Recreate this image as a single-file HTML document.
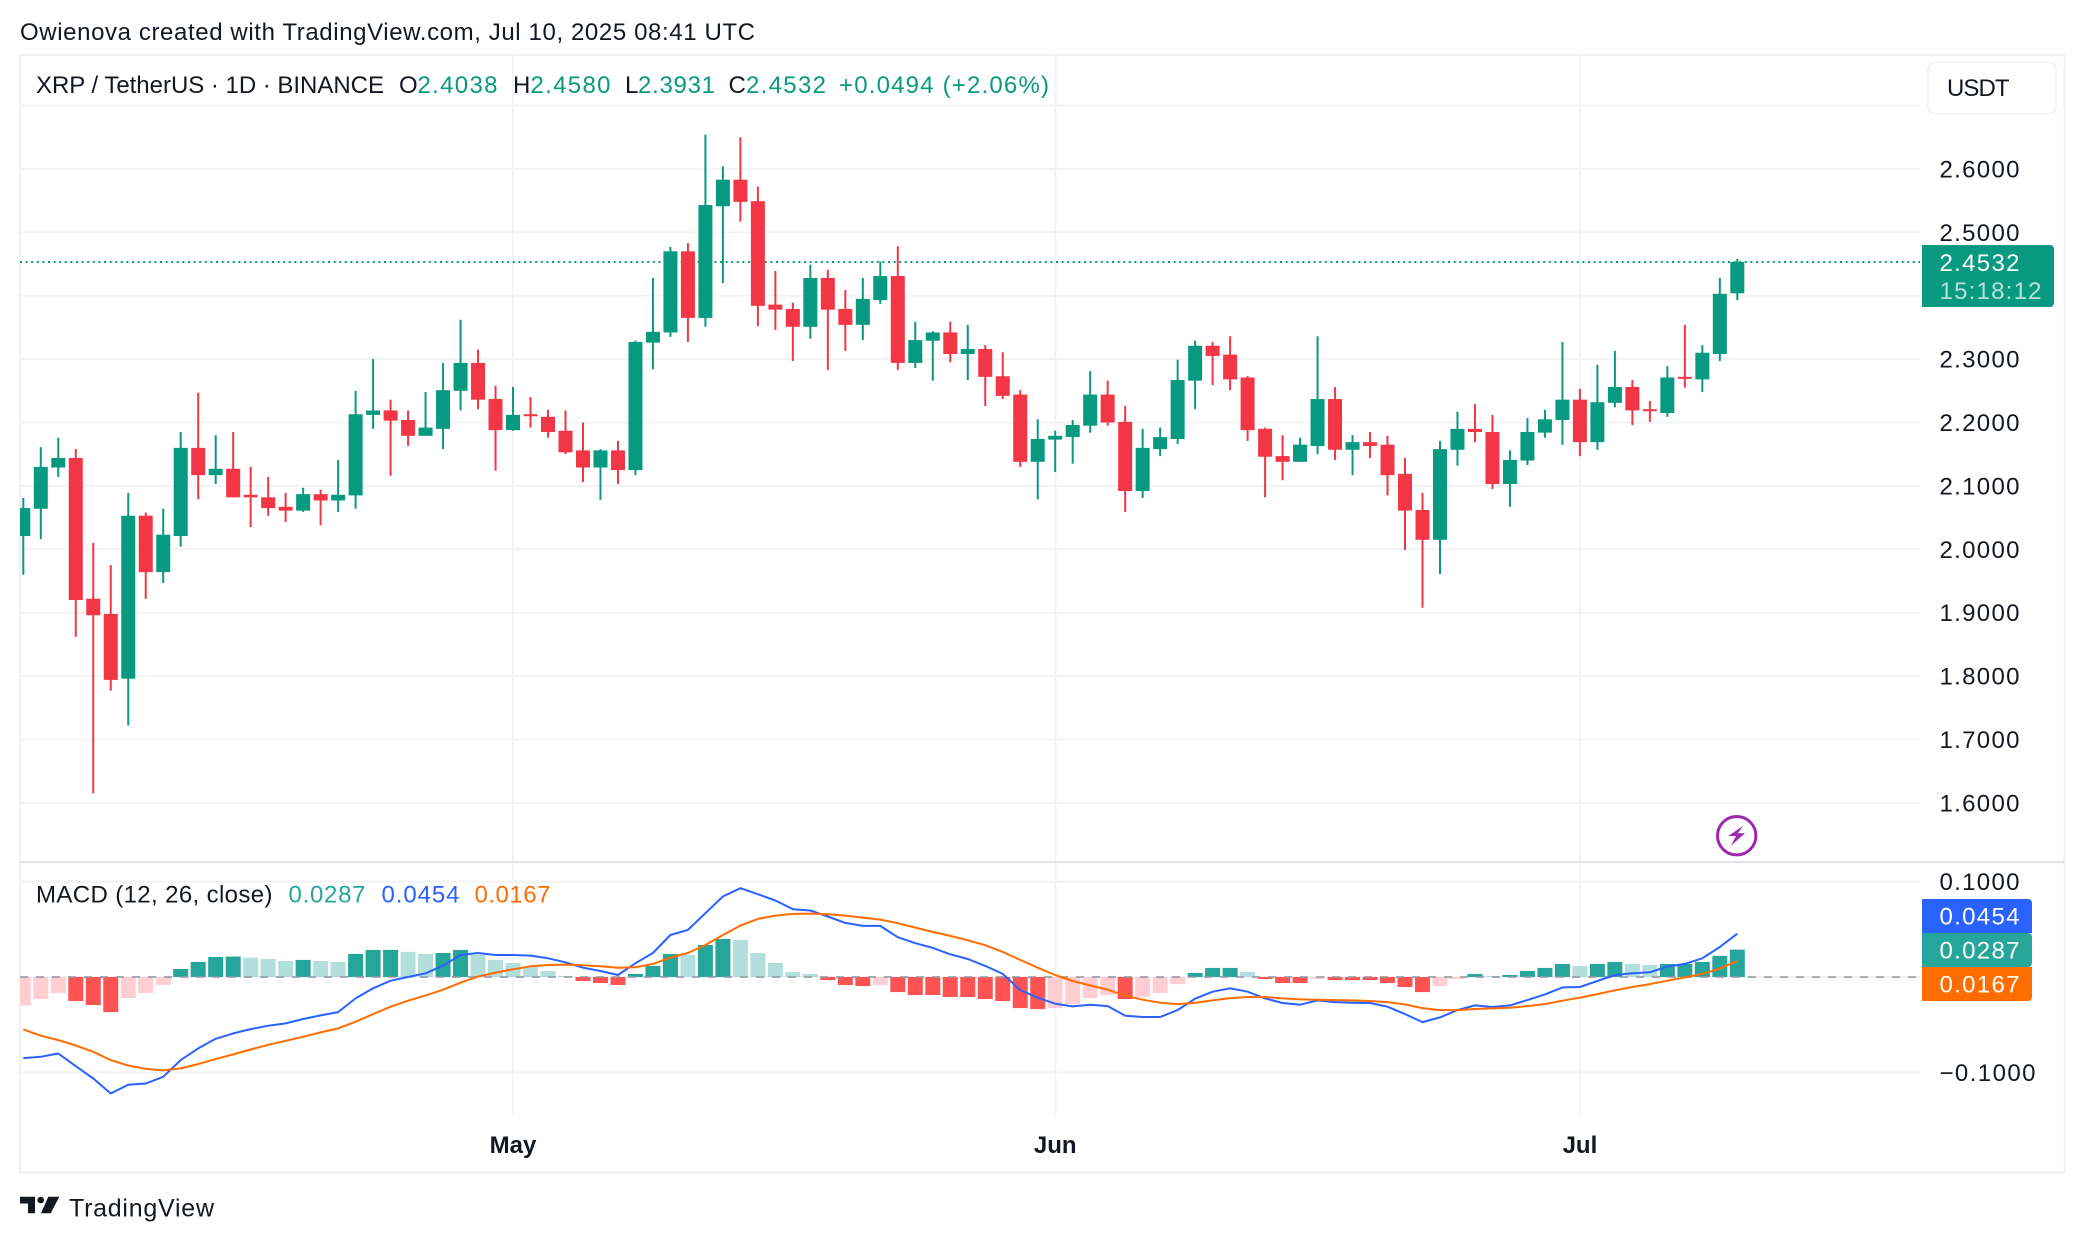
<!DOCTYPE html>
<html lang="en">
<head>
<meta charset="utf-8">
<title>XRP / TetherUS chart</title>
<style>
html,body{margin:0;padding:0;background:#fff;}
body{width:2084px;height:1242px;overflow:hidden;}
svg{display:block;font-family:"Liberation Sans",sans-serif;}
text{white-space:pre;}
</style>
</head>
<body>
<svg id="chart" xmlns="http://www.w3.org/2000/svg" width="2084" height="1242" viewBox="0 0 2084 1242">
  <rect x="0" y="0" width="2084" height="1242" fill="#ffffff"/>
  <text x="20" y="40" font-size="24" fill="#131722" textLength="735" lengthAdjust="spacing">Owienova created with TradingView.com, Jul 10, 2025 08:41 UTC</text>
  <rect x="20" y="55" width="2044.5" height="1117.5" fill="none" stroke="#f0f0f0" stroke-width="2"/>
  <g id="grid"></g>
  <line x1="20" x2="2064.5" y1="862" y2="862" stroke="#e0e3eb" stroke-width="2"/>
  <g id="priceLine"></g>
  <g id="candles"></g>
  <g id="hist"></g>
  <g id="macdLines"></g>
  <g id="axes"></g>

  <g font-size="24">
    <text x="36" y="93" fill="#131722" textLength="348" lengthAdjust="spacing">XRP / TetherUS · 1D · BINANCE</text>
    <text x="399" y="93" fill="#131722">O</text>
    <text x="417.5" y="93" fill="#089981" textLength="80" lengthAdjust="spacing">2.4038</text>
    <text x="513" y="93" fill="#131722">H</text>
    <text x="530.5" y="93" fill="#089981" textLength="80" lengthAdjust="spacing">2.4580</text>
    <text x="625" y="93" fill="#131722">L</text>
    <text x="638" y="93" fill="#089981" textLength="77" lengthAdjust="spacing">2.3931</text>
    <text x="728.5" y="93" fill="#131722">C</text>
    <text x="746" y="93" fill="#089981" textLength="80" lengthAdjust="spacing">2.4532</text>
    <text x="839" y="93" fill="#089981" textLength="210" lengthAdjust="spacing">+0.0494 (+2.06%)</text>
  </g>

  <g font-size="24">
    <text x="36" y="902.5" fill="#131722" textLength="236.5" lengthAdjust="spacing">MACD (12, 26, close)</text>
    <text x="288.5" y="902.5" fill="#26a69a" textLength="77" lengthAdjust="spacing">0.0287</text>
    <text x="381.5" y="902.5" fill="#2962ff" textLength="78" lengthAdjust="spacing">0.0454</text>
    <text x="474.5" y="902.5" fill="#ff6d00" textLength="76" lengthAdjust="spacing">0.0167</text>
  </g>

  <g>
    <rect x="1928" y="62" width="128" height="52" rx="8" fill="#ffffff" stroke="#f0f0f0" stroke-width="1.5"/>
    <text x="1947" y="96" font-size="24" fill="#131722" textLength="62.5" lengthAdjust="spacing">USDT</text>
  </g>

  <g>
    <path d="M1922 245H2050a4 4 0 0 1 4 4V303a4 4 0 0 1-4 4H1922Z" fill="#089981"/>
    <text x="1939.5" y="271" font-size="24" fill="#ffffff" textLength="80" lengthAdjust="spacing">2.4532</text>
    <text x="1939.5" y="299" font-size="24" fill="#ffffff" fill-opacity="0.7" textLength="102" lengthAdjust="spacing">15:18:12</text>
  </g>

  <g>
    <path d="M1922 899H2028a4 4 0 0 1 4 4V933H1922Z" fill="#2962ff"/>
    <text x="1939.5" y="924.5" font-size="24" fill="#ffffff" textLength="80" lengthAdjust="spacing">0.0454</text>
    <path d="M1922 933H2028a4 4 0 0 1 4 4V963a4 4 0 0 1-4 4H1922Z" fill="#26a69a"/>
    <text x="1939.5" y="958.5" font-size="24" fill="#ffffff" textLength="80" lengthAdjust="spacing">0.0287</text>
    <path d="M1922 967H2032V997a4 4 0 0 1-4 4H1922Z" fill="#ff6d00"/>
    <text x="1939.5" y="992.5" font-size="24" fill="#ffffff" textLength="80" lengthAdjust="spacing">0.0167</text>
  </g>

  <g>
    <circle cx="1736.7" cy="835.7" r="19.2" fill="#ffffff" stroke="#9c27b0" stroke-width="3"/>
    <polygon points="1743.3,825.7 1728.3,836 1736,836 1731,845.7 1745,833.3 1737.7,833.3" fill="#9c27b0"/>
  </g>

  <g>
    <path fill="#131722" d="M20 1196.7H35V1213.3H28V1203.5H20ZM48.3 1196.7H59.3L50.7 1213.3H41ZM37.4 1200a3.3 3.3 0 1 0 6.6 0a3.3 3.3 0 1 0-6.6 0Z"/>
    <text x="69" y="1216.5" font-size="25" fill="#131722" textLength="145" lengthAdjust="spacing">TradingView</text>
  </g>
</svg>

<script>
const priceTicks = [2.7,2.6,2.5,2.4,2.3,2.2,2.1,2.0,1.9,1.8,1.7,1.6];
const priceTickLabels = ["","2.6000","2.5000","","2.3000","2.2000","2.1000","2.0000","1.9000","1.8000","1.7000","1.6000"];
const macdTicks = [0.1,-0.1];
const macdTickLabels = ["0.1000","\u22120.1000"];
const monthLabels = ["May","Jun","Jul"];
const monthBars = [28,59,89];

const opens = [2.021,2.064,2.129,2.144,1.922,1.898,1.796,2.053,1.964,2.021,
2.160,2.117,2.127,2.086,2.082,2.067,2.061,2.087,2.077,2.085,
2.212,2.219,2.204,2.179,2.190,2.250,2.294,2.237,2.188,2.213,
2.209,2.187,2.156,2.129,2.156,2.125,2.326,2.342,2.470,2.365,
2.541,2.583,2.549,2.386,2.379,2.351,2.428,2.379,2.354,2.393,
2.431,2.294,2.329,2.342,2.308,2.316,2.273,2.244,2.138,2.173,
2.177,2.195,2.244,2.201,2.092,2.158,2.174,2.266,2.321,2.307,
2.271,2.190,2.147,2.138,2.163,2.237,2.157,2.169,2.165,2.119,
2.062,2.015,2.157,2.190,2.185,2.103,2.140,2.184,2.204,2.236,
2.169,2.231,2.256,2.221,2.215,2.272,2.268,2.308,2.4038];
const highs = [2.081,2.161,2.176,2.158,2.010,1.975,2.089,2.058,2.064,2.185,
2.247,2.180,2.185,2.130,2.114,2.089,2.097,2.094,2.141,2.250,
2.300,2.236,2.219,2.248,2.294,2.362,2.315,2.258,2.256,2.240,
2.220,2.219,2.200,2.158,2.171,2.329,2.428,2.477,2.483,2.654,
2.604,2.650,2.572,2.439,2.389,2.449,2.441,2.409,2.428,2.454,
2.478,2.359,2.344,2.359,2.354,2.322,2.311,2.251,2.205,2.187,
2.204,2.281,2.266,2.226,2.190,2.192,2.299,2.329,2.327,2.336,
2.273,2.192,2.180,2.176,2.336,2.256,2.180,2.185,2.179,2.144,
2.089,2.171,2.217,2.229,2.212,2.156,2.207,2.220,2.327,2.253,
2.291,2.313,2.267,2.234,2.289,2.354,2.322,2.428,2.4580];
const lows = [1.960,2.016,2.114,1.862,1.615,1.777,1.722,1.922,1.947,2.004,
2.079,2.103,2.082,2.035,2.053,2.043,2.059,2.038,2.059,2.064,
2.190,2.116,2.163,2.179,2.158,2.219,2.221,2.124,2.187,2.192,
2.176,2.150,2.106,2.078,2.103,2.117,2.284,2.335,2.327,2.351,
2.420,2.517,2.352,2.346,2.297,2.332,2.283,2.313,2.330,2.387,
2.283,2.286,2.266,2.295,2.267,2.226,2.237,2.130,2.079,2.122,
2.135,2.184,2.195,2.059,2.081,2.147,2.166,2.221,2.259,2.251,
2.171,2.082,2.109,2.138,2.150,2.141,2.117,2.144,2.085,1.999,
1.908,1.961,2.132,2.169,2.095,2.067,2.133,2.176,2.165,2.147,
2.157,2.224,2.196,2.201,2.209,2.255,2.248,2.297,2.3931];
const closes = [2.065,2.130,2.144,1.920,1.896,1.794,2.053,1.964,2.023,2.160,
2.117,2.127,2.082,2.082,2.065,2.061,2.087,2.077,2.086,2.213,
2.219,2.203,2.179,2.192,2.251,2.294,2.236,2.188,2.212,2.211,
2.185,2.153,2.129,2.156,2.125,2.327,2.343,2.470,2.365,2.543,
2.583,2.548,2.384,2.378,2.351,2.428,2.378,2.354,2.395,2.431,
2.294,2.330,2.342,2.308,2.316,2.272,2.242,2.138,2.174,2.179,
2.196,2.244,2.200,2.092,2.160,2.177,2.267,2.321,2.305,2.268,
2.188,2.146,2.138,2.165,2.237,2.157,2.169,2.163,2.117,2.061,
2.015,2.158,2.190,2.185,2.103,2.141,2.185,2.205,2.236,2.169,
2.232,2.256,2.219,2.219,2.271,2.269,2.310,2.403,2.4532];

const histogram = [-0.0301,-0.0231,-0.0168,-0.0252,-0.0294,-0.0368,-0.0221,-0.0168,-0.0084,0.0084,
0.0158,0.0210,0.0214,0.0203,0.0189,0.0168,0.0179,0.0168,0.0158,0.0242,
0.0284,0.0284,0.0263,0.0242,0.0252,0.0284,0.0231,0.0179,0.0147,0.0105,
0.0063,0.0011,-0.0042,-0.0063,-0.0084,0.0032,0.0116,0.0242,0.0231,0.0336,
0.0399,0.0389,0.0252,0.0147,0.0053,0.0032,-0.0032,-0.0084,-0.0095,-0.0084,
-0.0158,-0.0189,-0.0189,-0.0210,-0.0210,-0.0231,-0.0252,-0.0326,-0.0336,-0.0326,
-0.0284,-0.0221,-0.0189,-0.0231,-0.0210,-0.0168,-0.0074,0.0042,0.0095,0.0095,
0.0053,-0.0021,-0.0063,-0.0063,-0.0021,-0.0032,-0.0032,-0.0032,-0.0063,-0.0105,
-0.0158,-0.0095,-0.0021,0.0032,0.0011,0.0021,0.0063,0.0095,0.0137,0.0116,
0.0137,0.0158,0.0137,0.0126,0.0137,0.0137,0.0158,0.0221,0.0287];
const macdLine = [-0.0851,-0.0837,-0.0802,-0.0935,-0.1064,-0.1222,-0.1131,-0.1117,-0.1047,-0.0872,
-0.0749,-0.0648,-0.0592,-0.0546,-0.0511,-0.0487,-0.0441,-0.0403,-0.0368,-0.0224,
-0.0119,-0.0039,0.0000,0.0039,0.0119,0.0231,0.0252,0.0231,0.0231,0.0224,
0.0196,0.0154,0.0098,0.0063,0.0021,0.0144,0.0252,0.0441,0.0494,0.0669,
0.0844,0.0931,0.0868,0.0802,0.0711,0.0697,0.0634,0.0567,0.0536,0.0536,
0.0417,0.0354,0.0305,0.0238,0.0189,0.0116,0.0032,-0.0137,-0.0217,-0.0280,
-0.0308,-0.0291,-0.0305,-0.0406,-0.0420,-0.0420,-0.0347,-0.0228,-0.0154,-0.0119,
-0.0154,-0.0224,-0.0273,-0.0291,-0.0245,-0.0263,-0.0270,-0.0273,-0.0312,-0.0389,
-0.0473,-0.0424,-0.0347,-0.0298,-0.0315,-0.0298,-0.0242,-0.0182,-0.0109,-0.0105,
-0.0042,0.0021,0.0039,0.0049,0.0109,0.0137,0.0196,0.0315,0.0454];
const signalLine = [-0.0550,-0.0616,-0.0662,-0.0718,-0.0784,-0.0872,-0.0928,-0.0963,-0.0980,-0.0959,
-0.0914,-0.0861,-0.0812,-0.0760,-0.0711,-0.0669,-0.0627,-0.0581,-0.0539,-0.0469,
-0.0389,-0.0312,-0.0249,-0.0193,-0.0133,-0.0060,0.0004,0.0046,0.0081,0.0112,
0.0126,0.0130,0.0123,0.0112,0.0098,0.0102,0.0137,0.0203,0.0252,0.0336,
0.0441,0.0539,0.0609,0.0644,0.0662,0.0665,0.0658,0.0644,0.0623,0.0602,
0.0564,0.0518,0.0473,0.0431,0.0385,0.0333,0.0263,0.0179,0.0098,0.0021,
-0.0042,-0.0088,-0.0133,-0.0196,-0.0238,-0.0270,-0.0284,-0.0270,-0.0245,-0.0221,
-0.0210,-0.0210,-0.0224,-0.0235,-0.0238,-0.0242,-0.0245,-0.0252,-0.0263,-0.0287,
-0.0326,-0.0347,-0.0347,-0.0336,-0.0329,-0.0322,-0.0305,-0.0284,-0.0249,-0.0217,
-0.0179,-0.0140,-0.0105,-0.0074,-0.0039,-0.0004,0.0032,0.0088,0.0167];

const NS = "http://www.w3.org/2000/svg";
function xScale(i){ return 23.3 + i * 17.49; }
function yPrice(p){ return 168.9 + (2.6 - p) * 634; }
function yMacd(v){ return 977 - v * 953.5; }

function make(tag, parent){
  const el = document.createElementNS(NS, tag);
  parent.appendChild(el);
  return el;
}
function setAll(el, props){
  for (const k in props) el.setAttribute(k, props[k]);
}

const gridG = document.getElementById("grid");
const axesG = document.getElementById("axes");
const candlesG = document.getElementById("candles");
const histG = document.getElementById("hist");
const linesG = document.getElementById("macdLines");
const priceLineG = document.getElementById("priceLine");

priceTicks.forEach(function(t, i){
  const y = yPrice(t);
  const ln = make("line", gridG);
  
  
  setAll(ln, {x1:20, x2:1920, y1:y, y2:y, stroke:"#f3f3f3", "stroke-width":2});
  if (priceTickLabels[i]) {
    const tx = make("text", axesG);
    
    
    setAll(tx, {x:1939.5, y:y + 8.5, "font-size":24, fill:"#131722", textLength:80, lengthAdjust:"spacing"});
    tx.textContent = priceTickLabels[i];
  }
});

[0.1, 0, -0.1].forEach(function(t){
  const y = yMacd(t);
  const ln = make("line", gridG);
  
  
  setAll(ln, {x1:20, x2:1920, y1:y, y2:y, stroke:"#f3f3f3", "stroke-width":2});
});

macdTicks.forEach(function(t, i){
  const tx = make("text", axesG);
  
  
  setAll(tx, {x:1939.5, y:yMacd(t) + 8.5, "font-size":24, fill:"#131722", textLength: t < 0 ? 96 : 80, lengthAdjust:"spacing"});
  tx.textContent = macdTickLabels[i];
});

monthBars.forEach(function(b, i){
  const x = xScale(b);
  const a = make("line", gridG);
  
  
  setAll(a, {x1:x, x2:x, y1:55, y2:861, stroke:"#f3f3f3", "stroke-width":2});
  const c = make("line", gridG);
  
  
  setAll(c, {x1:x, x2:x, y1:863, y2:1115, stroke:"#f3f3f3", "stroke-width":2});
  const tx = make("text", axesG);
  
  
  setAll(tx, {x:x, y:1153, "font-size":24, "font-weight":"bold", fill:"#131722", "text-anchor":"middle"});
  tx.textContent = monthLabels[i];
});

const lastClose = closes[closes.length - 1];
const pl = make("line", priceLineG);


setAll(pl, {x1:20, x2:1920, y1:yPrice(lastClose), y2:yPrice(lastClose), stroke:"#089981", "stroke-width":2, "stroke-dasharray":"2 3.6"});

closes.forEach(function(c, i){
  const o = opens[i];
  const up = c >= o;
  const color = up ? "#089981" : "#f23645";
  const x = xScale(i);
  const left = Math.max(20, x - 7);
  const wick = make("rect", candlesG);
  
  
  setAll(wick, {x:x - 1, y:yPrice(highs[i]), width:2, height:Math.max(1, yPrice(lows[i]) - yPrice(highs[i])), fill:color});
  const body = make("rect", candlesG);
  
  
  const top = yPrice(Math.max(o, c));
  setAll(body, {x:left, y:top, width:x + 7 - left, height:Math.max(2, yPrice(Math.min(o, c)) - top), fill:color});
});

histogram.forEach(function(v, i){
  const prev = i > 0 ? histogram[i - 1] : v;
  let color;
  if (v >= 0) color = v >= prev ? "#26a69a" : "#b2dfdb";
  else color = v <= prev && i > 0 ? "#ff5252" : "#ffcdd2";
  const x = xScale(i);
  const left = Math.max(20, x - 7.5);
  const bar = make("rect", histG);
  
  
  const y0 = yMacd(0);
  const y1 = yMacd(v);
  setAll(bar, {x:left, y:Math.min(y0, y1), width:x + 7.5 - left, height:Math.abs(y1 - y0), fill:color});
});

const zero = make("line", histG);


setAll(zero, {x1:20, x2:1920, y1:yMacd(0), y2:yMacd(0), stroke:"#9598a1", "stroke-opacity":0.8, "stroke-width":2, "stroke-dasharray":"8 8"});

function drawLine(values, color, width, name){
  const p = make("polyline", linesG);
  
  
  const pts = values.map(function(v, i){ return xScale(i).toFixed(1) + "," + yMacd(v).toFixed(1); }).join(" ");
  setAll(p, {points:pts, fill:"none", stroke:color, "stroke-width":width, "stroke-linejoin":"round"});
}
drawLine(macdLine, "#2962ff", 2, "macd-line");
drawLine(signalLine, "#ff6d00", 2, "signal-line");
</script>
</body>
</html>
